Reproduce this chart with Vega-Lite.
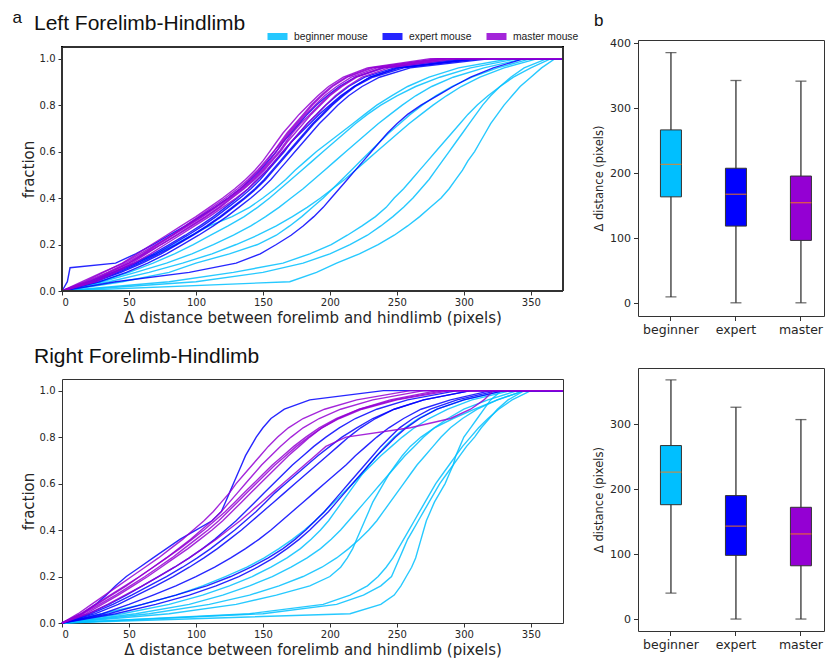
{
  "$schema": "https://vega.github.io/schema/vega-lite/v6.json",
  "background": "white",
  "padding": {"left": 12, "top": 9, "right": 0, "bottom": 0},
  "config": {
    "font": "DejaVu Sans",
    "view": {"stroke": "#333", "strokeWidth": 1},
    "axis": {"domain": false, "grid": false, "tickColor": "#333", "labelColor": "#262626", "titleColor": "#262626", "titleFontWeight": "normal", "labelFont": "DejaVu Sans", "titleFont": "DejaVu Sans"},
    "title": {"font": "Liberation Sans", "fontWeight": "normal", "color": "#111", "anchor": "start", "baseline": "alphabetic"}
  },
  "datasets": {
    "curves": [
      {"panel": "Left", "group": "beginner mouse", "id": "Lb1", "x": [0,20,38,55,70,84,97,110,127,140,150,159,167,174,182,190,199,208,217,226,235,246,258,274,296,335,374], "y": [0,0.04,0.08,0.12,0.16,0.2,0.24,0.28,0.32,0.36,0.4,0.44,0.48,0.52,0.56,0.6,0.64,0.68,0.72,0.76,0.8,0.84,0.88,0.92,0.96,1,1]},
      {"panel": "Left", "group": "beginner mouse", "id": "Lb2", "x": [0,28,50,68,84,98,111,124,136,146,155,163,171,179,187,195,203,211,219,228,238,250,264,282,305,340,374], "y": [0,0.04,0.08,0.12,0.16,0.2,0.24,0.28,0.32,0.36,0.4,0.44,0.48,0.52,0.56,0.6,0.64,0.68,0.72,0.76,0.8,0.84,0.88,0.92,0.96,1,1]},
      {"panel": "Left", "group": "beginner mouse", "id": "Lb3", "x": [0,45,80,100,125,146,160,170,179,187,195,202,209,216,223,230,237,244,252,260,269,279,291,306,325,350,374], "y": [0,0.04,0.08,0.12,0.16,0.2,0.24,0.28,0.32,0.36,0.4,0.44,0.48,0.52,0.56,0.6,0.64,0.68,0.72,0.76,0.8,0.84,0.88,0.92,0.96,1,1]},
      {"panel": "Left", "group": "beginner mouse", "id": "Lb4", "x": [0,80,128,165,185,201,213,224,234,242,248,255,261,267,273,279,285,291,297,303,310,318,327,337,350,365,374], "y": [0,0.04,0.08,0.12,0.16,0.2,0.24,0.28,0.32,0.36,0.4,0.44,0.48,0.52,0.56,0.6,0.64,0.68,0.72,0.76,0.8,0.84,0.88,0.92,0.96,1,1]},
      {"panel": "Left", "group": "beginner mouse", "id": "Lb5", "x": [0,100,150,180,200,215,228,238,247,255,262,268,274,279,284,289,294,299,304,309,314,320,327,335,345,362,374], "y": [0,0.04,0.08,0.12,0.16,0.2,0.24,0.28,0.32,0.36,0.4,0.44,0.48,0.52,0.56,0.6,0.64,0.68,0.72,0.76,0.8,0.84,0.88,0.92,0.96,1,1]},
      {"panel": "Left", "group": "beginner mouse", "id": "Lb6", "x": [0,170,190,205,222,236,248,258,267,275,283,289,294,299,303,308,312,316,320,325,330,336,342,350,358,368,374], "y": [0,0.04,0.08,0.12,0.16,0.2,0.24,0.28,0.32,0.36,0.4,0.44,0.48,0.52,0.56,0.6,0.64,0.68,0.72,0.76,0.8,0.84,0.88,0.92,0.96,1,1]},
      {"panel": "Left", "group": "beginner mouse", "id": "Lb7", "x": [0,35,65,90,112,130,146,160,172,183,193,202,211,219,227,235,243,251,259,268,277,287,298,312,330,355,374], "y": [0,0.04,0.08,0.12,0.16,0.2,0.24,0.28,0.32,0.36,0.4,0.44,0.48,0.52,0.56,0.6,0.64,0.68,0.72,0.76,0.8,0.84,0.88,0.92,0.96,1,1]},
      {"panel": "Left", "group": "beginner mouse", "id": "Lb8", "x": [0,30,55,78,97,113,128,141,152,162,171,180,188,196,204,212,220,228,236,245,254,264,276,292,315,345,374], "y": [0,0.04,0.08,0.12,0.16,0.2,0.24,0.28,0.32,0.36,0.4,0.44,0.48,0.52,0.56,0.6,0.64,0.68,0.72,0.76,0.8,0.84,0.88,0.92,0.96,1,1]},
      {"panel": "Left", "group": "expert mouse", "id": "Le1", "x": [0,4,6,40,55,68,80,92,103,114,124,133,141,148,154,160,165,171,177,183,190,198,207,219,240,300,374], "y": [0,0.04,0.1,0.12,0.16,0.2,0.24,0.28,0.32,0.36,0.4,0.44,0.48,0.52,0.56,0.6,0.64,0.68,0.72,0.76,0.8,0.84,0.88,0.92,0.96,1,1]},
      {"panel": "Left", "group": "expert mouse", "id": "Le2", "x": [0,22,40,56,70,82,94,105,115,124,133,141,148,154,160,166,171,177,183,190,197,205,214,226,248,305,374], "y": [0,0.04,0.08,0.12,0.16,0.2,0.24,0.28,0.32,0.36,0.4,0.44,0.48,0.52,0.56,0.6,0.64,0.68,0.72,0.76,0.8,0.84,0.88,0.92,0.96,1,1]},
      {"panel": "Left", "group": "expert mouse", "id": "Le3", "x": [0,25,44,60,74,86,98,109,119,128,137,145,152,158,164,170,176,182,188,195,202,210,219,232,255,310,374], "y": [0,0.04,0.08,0.12,0.16,0.2,0.24,0.28,0.32,0.36,0.4,0.44,0.48,0.52,0.56,0.6,0.64,0.68,0.72,0.76,0.8,0.84,0.88,0.92,0.96,1,1]},
      {"panel": "Left", "group": "expert mouse", "id": "Le4", "x": [0,20,38,54,68,80,92,103,113,122,131,139,146,153,159,165,171,178,185,192,200,208,218,230,252,315,374], "y": [0,0.04,0.08,0.12,0.16,0.2,0.24,0.28,0.32,0.36,0.4,0.44,0.48,0.52,0.56,0.6,0.64,0.68,0.72,0.76,0.8,0.84,0.88,0.92,0.96,1,1]},
      {"panel": "Left", "group": "expert mouse", "id": "Le5", "x": [0,28,48,64,78,90,102,113,123,132,141,149,156,162,168,174,180,186,192,199,206,214,224,237,260,320,374], "y": [0,0.04,0.08,0.12,0.16,0.2,0.24,0.28,0.32,0.36,0.4,0.44,0.48,0.52,0.56,0.6,0.64,0.68,0.72,0.76,0.8,0.84,0.88,0.92,0.96,1,1]},
      {"panel": "Left", "group": "expert mouse", "id": "Le6", "x": [0,24,42,58,72,85,97,108,118,127,136,144,151,157,163,169,175,181,187,194,201,209,218,230,250,308,374], "y": [0,0.04,0.08,0.12,0.16,0.2,0.24,0.28,0.32,0.36,0.4,0.44,0.48,0.52,0.56,0.6,0.64,0.68,0.72,0.76,0.8,0.84,0.88,0.92,0.96,1,1]},
      {"panel": "Left", "group": "expert mouse", "id": "Le7", "x": [0,40,95,130,148,160,171,180,188,195,201,207,213,219,225,231,237,243,250,258,268,280,292,305,322,345,374], "y": [0,0.04,0.08,0.12,0.16,0.2,0.24,0.28,0.32,0.36,0.4,0.44,0.48,0.52,0.56,0.6,0.64,0.68,0.72,0.76,0.8,0.84,0.88,0.92,0.96,1,1]},
      {"panel": "Left", "group": "master mouse", "id": "Lm1", "x": [0,17,31,45,56,67,78,89,100,110,120,129,137,144,150,155,160,165,171,177,184,191,199,210,228,275,374], "y": [0,0.04,0.08,0.12,0.16,0.2,0.24,0.28,0.32,0.36,0.4,0.44,0.48,0.52,0.56,0.6,0.64,0.68,0.72,0.76,0.8,0.84,0.88,0.92,0.96,1,1]},
      {"panel": "Left", "group": "master mouse", "id": "Lm2", "x": [0,20,35,50,61,72,83,94,105,115,125,134,142,149,155,160,165,170,176,182,189,196,205,216,235,285,374], "y": [0,0.04,0.08,0.12,0.16,0.2,0.24,0.28,0.32,0.36,0.4,0.44,0.48,0.52,0.56,0.6,0.64,0.68,0.72,0.76,0.8,0.84,0.88,0.92,0.96,1,1]},
      {"panel": "Left", "group": "master mouse", "id": "Lm3", "x": [0,24,38,52,63,74,86,97,108,118,127,136,144,151,157,163,168,174,180,186,193,200,209,220,240,290,374], "y": [0,0.04,0.08,0.12,0.16,0.2,0.24,0.28,0.32,0.36,0.4,0.44,0.48,0.52,0.56,0.6,0.64,0.68,0.72,0.76,0.8,0.84,0.88,0.92,0.96,1,1]},
      {"panel": "Left", "group": "master mouse", "id": "Lm4", "x": [0,15,30,46,58,70,82,93,104,114,124,133,140,147,153,158,164,169,175,181,187,194,202,213,232,280,374], "y": [0,0.04,0.08,0.12,0.16,0.2,0.24,0.28,0.32,0.36,0.4,0.44,0.48,0.52,0.56,0.6,0.64,0.68,0.72,0.76,0.8,0.84,0.88,0.92,0.96,1,1]},
      {"panel": "Left", "group": "master mouse", "id": "Lm5", "x": [0,26,40,54,66,77,88,99,110,120,130,139,146,153,159,165,171,177,183,190,197,204,213,224,244,295,374], "y": [0,0.04,0.08,0.12,0.16,0.2,0.24,0.28,0.32,0.36,0.4,0.44,0.48,0.52,0.56,0.6,0.64,0.68,0.72,0.76,0.8,0.84,0.88,0.92,0.96,1,1]},
      {"panel": "Left", "group": "master mouse", "id": "Lm6", "x": [0,22,36,50,62,74,85,96,107,117,126,135,143,150,156,162,167,172,178,185,192,199,208,219,238,288,374], "y": [0,0.04,0.08,0.12,0.16,0.2,0.24,0.28,0.32,0.36,0.4,0.44,0.48,0.52,0.56,0.6,0.64,0.68,0.72,0.76,0.8,0.84,0.88,0.92,0.96,1,1]},
      {"panel": "Left", "group": "master mouse", "id": "Lm7", "x": [0,18,34,48,60,71,82,92,102,112,122,131,139,146,152,158,163,168,174,180,186,193,201,212,230,282,374], "y": [0,0.04,0.08,0.12,0.16,0.2,0.24,0.28,0.32,0.36,0.4,0.44,0.48,0.52,0.56,0.6,0.64,0.68,0.72,0.76,0.8,0.84,0.88,0.92,0.96,1,1]},
      {"panel": "Right", "group": "beginner mouse", "id": "Rb1", "x": [0,215,238,248,253,257,261,264,266,268,270,272,275,278,282,286,289,292,294,297,300,305,310,315,320,328,374], "y": [0,0.04,0.08,0.12,0.16,0.2,0.24,0.28,0.32,0.36,0.4,0.44,0.48,0.52,0.56,0.6,0.64,0.68,0.72,0.76,0.8,0.84,0.88,0.92,0.96,1,1]},
      {"panel": "Right", "group": "beginner mouse", "id": "Rb2", "x": [0,150,205,225,238,246,249,252,255,258,262,266,270,274,278,282,287,292,297,302,308,313,319,325,333,345,374], "y": [0,0.04,0.08,0.12,0.16,0.2,0.24,0.28,0.32,0.36,0.4,0.44,0.48,0.52,0.56,0.6,0.64,0.68,0.72,0.76,0.8,0.84,0.88,0.92,0.96,1,1]},
      {"panel": "Right", "group": "beginner mouse", "id": "Rb3", "x": [0,140,195,215,228,236,242,247,251,255,259,263,267,271,275,279,284,289,294,299,305,311,318,326,336,350,374], "y": [0,0.04,0.08,0.12,0.16,0.2,0.24,0.28,0.32,0.36,0.4,0.44,0.48,0.52,0.56,0.6,0.64,0.68,0.72,0.76,0.8,0.84,0.88,0.92,0.96,1,1]},
      {"panel": "Right", "group": "beginner mouse", "id": "Rb4", "x": [0,80,130,160,185,200,208,213,217,220,223,226,229,232,236,240,244,249,254,260,268,278,292,308,325,345,374], "y": [0,0.04,0.08,0.12,0.16,0.2,0.24,0.28,0.32,0.36,0.4,0.44,0.48,0.52,0.56,0.6,0.64,0.68,0.72,0.76,0.8,0.84,0.88,0.92,0.96,1,1]},
      {"panel": "Right", "group": "beginner mouse", "id": "Rb5", "x": [0,45,80,105,125,142,156,168,178,186,193,199,204,209,214,219,224,229,235,241,248,256,266,280,300,330,374], "y": [0,0.04,0.08,0.12,0.16,0.2,0.24,0.28,0.32,0.36,0.4,0.44,0.48,0.52,0.56,0.6,0.64,0.68,0.72,0.76,0.8,0.84,0.88,0.92,0.96,1,1]},
      {"panel": "Right", "group": "beginner mouse", "id": "Rb6", "x": [0,55,95,120,140,157,171,183,193,201,208,214,220,226,232,238,244,250,256,263,270,278,288,300,318,340,374], "y": [0,0.04,0.08,0.12,0.16,0.2,0.24,0.28,0.32,0.36,0.4,0.44,0.48,0.52,0.56,0.6,0.64,0.68,0.72,0.76,0.8,0.84,0.88,0.92,0.96,1,1]},
      {"panel": "Right", "group": "beginner mouse", "id": "Rb7", "x": [0,65,110,140,162,180,194,205,214,222,229,235,240,245,250,255,260,265,271,277,283,290,299,310,325,345,374], "y": [0,0.04,0.08,0.12,0.16,0.2,0.24,0.28,0.32,0.36,0.4,0.44,0.48,0.52,0.56,0.6,0.64,0.68,0.72,0.76,0.8,0.84,0.88,0.92,0.96,1,1]},
      {"panel": "Right", "group": "beginner mouse", "id": "Rb8", "x": [0,30,60,85,105,122,138,151,162,172,181,189,196,203,210,217,224,231,238,246,254,263,274,288,306,335,374], "y": [0,0.04,0.08,0.12,0.16,0.2,0.24,0.28,0.32,0.36,0.4,0.44,0.48,0.52,0.56,0.6,0.64,0.68,0.72,0.76,0.8,0.84,0.88,0.92,0.96,1,1]},
      {"panel": "Right", "group": "expert mouse", "id": "Re1", "x": [0,15,25,33,40,48,58,68,78,88,100,112,119,122,125,128,131,134,137,141,145,150,156,166,185,240,374], "y": [0,0.04,0.08,0.12,0.16,0.2,0.24,0.28,0.32,0.36,0.4,0.44,0.48,0.52,0.56,0.6,0.64,0.68,0.72,0.76,0.8,0.84,0.88,0.92,0.96,1,1]},
      {"panel": "Right", "group": "expert mouse", "id": "Re2", "x": [0,20,35,48,60,72,84,95,105,114,122,130,137,144,151,158,165,172,180,188,197,207,219,235,258,295,374], "y": [0,0.04,0.08,0.12,0.16,0.2,0.24,0.28,0.32,0.36,0.4,0.44,0.48,0.52,0.56,0.6,0.64,0.68,0.72,0.76,0.8,0.84,0.88,0.92,0.96,1,1]},
      {"panel": "Right", "group": "expert mouse", "id": "Re3", "x": [0,25,42,56,70,83,95,106,116,125,134,142,150,158,166,174,182,190,198,206,214,223,234,248,270,305,374], "y": [0,0.04,0.08,0.12,0.16,0.2,0.24,0.28,0.32,0.36,0.4,0.44,0.48,0.52,0.56,0.6,0.64,0.68,0.72,0.76,0.8,0.84,0.88,0.92,0.96,1,1]},
      {"panel": "Right", "group": "expert mouse", "id": "Re4", "x": [0,30,50,68,85,100,114,126,137,147,156,164,172,180,188,196,204,212,219,227,235,244,255,268,290,320,374], "y": [0,0.04,0.08,0.12,0.16,0.2,0.24,0.28,0.32,0.36,0.4,0.44,0.48,0.52,0.56,0.6,0.64,0.68,0.72,0.76,0.8,0.84,0.88,0.92,0.96,1,1]},
      {"panel": "Right", "group": "expert mouse", "id": "Re5", "x": [0,35,60,85,108,126,141,154,165,174,182,189,196,202,208,214,220,226,232,238,245,252,262,275,295,325,374], "y": [0,0.04,0.08,0.12,0.16,0.2,0.24,0.28,0.32,0.36,0.4,0.44,0.48,0.52,0.56,0.6,0.64,0.68,0.72,0.76,0.8,0.84,0.88,0.92,0.96,1,1]},
      {"panel": "Right", "group": "expert mouse", "id": "Re6", "x": [0,22,38,52,65,78,90,101,111,120,129,137,145,152,159,167,175,183,191,200,209,220,232,248,270,305,374], "y": [0,0.04,0.08,0.12,0.16,0.2,0.24,0.28,0.32,0.36,0.4,0.44,0.48,0.52,0.56,0.6,0.64,0.68,0.72,0.76,0.8,0.84,0.88,0.92,0.96,1,1]},
      {"panel": "Right", "group": "expert mouse", "id": "Re7", "x": [0,40,70,95,115,132,146,158,168,177,185,192,199,205,211,217,223,229,235,242,249,257,267,280,300,330,374], "y": [0,0.04,0.08,0.12,0.16,0.2,0.24,0.28,0.32,0.36,0.4,0.44,0.48,0.52,0.56,0.6,0.64,0.68,0.72,0.76,0.8,0.84,0.88,0.92,0.96,1,1]},
      {"panel": "Right", "group": "master mouse", "id": "Rm1", "x": [0,12,22,32,42,52,62,72,81,90,98,106,113,119,125,130,136,142,148,154,161,169,180,196,220,260,374], "y": [0,0.04,0.08,0.12,0.16,0.2,0.24,0.28,0.32,0.36,0.4,0.44,0.48,0.52,0.56,0.6,0.64,0.68,0.72,0.76,0.8,0.84,0.88,0.92,0.96,1,1]},
      {"panel": "Right", "group": "master mouse", "id": "Rm2", "x": [0,15,26,37,48,58,68,78,87,96,104,112,119,125,131,137,143,149,156,163,171,180,192,208,232,270,374], "y": [0,0.04,0.08,0.12,0.16,0.2,0.24,0.28,0.32,0.36,0.4,0.44,0.48,0.52,0.56,0.6,0.64,0.68,0.72,0.76,0.8,0.84,0.88,0.92,0.96,1,1]},
      {"panel": "Right", "group": "master mouse", "id": "Rm3", "x": [0,18,30,42,53,64,74,84,94,103,112,120,127,134,141,148,155,162,169,177,185,194,206,222,245,280,374], "y": [0,0.04,0.08,0.12,0.16,0.2,0.24,0.28,0.32,0.36,0.4,0.44,0.48,0.52,0.56,0.6,0.64,0.68,0.72,0.76,0.8,0.84,0.88,0.92,0.96,1,1]},
      {"panel": "Right", "group": "master mouse", "id": "Rm4", "x": [0,14,25,36,47,58,68,78,88,97,106,114,122,129,136,143,150,157,165,173,182,192,205,222,248,285,374], "y": [0,0.04,0.08,0.12,0.16,0.2,0.24,0.28,0.32,0.36,0.4,0.44,0.48,0.52,0.56,0.6,0.64,0.68,0.72,0.76,0.8,0.84,0.88,0.92,0.96,1,1]},
      {"panel": "Right", "group": "master mouse", "id": "Rm5", "x": [0,20,34,47,60,72,84,95,105,115,124,133,141,149,157,165,173,181,189,197,212,260,290,305,315,322,374], "y": [0,0.04,0.08,0.12,0.16,0.2,0.24,0.28,0.32,0.36,0.4,0.44,0.48,0.52,0.56,0.6,0.64,0.68,0.72,0.76,0.8,0.84,0.88,0.92,0.96,1,1]},
      {"panel": "Right", "group": "master mouse", "id": "Rm6", "x": [0,16,28,40,51,62,72,82,91,100,109,117,124,131,138,145,152,159,167,175,184,194,207,224,250,290,374], "y": [0,0.04,0.08,0.12,0.16,0.2,0.24,0.28,0.32,0.36,0.4,0.44,0.48,0.52,0.56,0.6,0.64,0.68,0.72,0.76,0.8,0.84,0.88,0.92,0.96,1,1]}
    ],
    "boxes": [
      {"panel": "Left", "group": "beginner", "lo": 10, "q1": 164, "med": 214, "q3": 267, "hi": 386},
      {"panel": "Left", "group": "expert", "lo": 1, "q1": 119, "med": 168, "q3": 208, "hi": 343},
      {"panel": "Left", "group": "master", "lo": 1, "q1": 97, "med": 155, "q3": 196, "hi": 342},
      {"panel": "Right", "group": "beginner", "lo": 40, "q1": 176, "med": 226, "q3": 267, "hi": 368},
      {"panel": "Right", "group": "expert", "lo": 0, "q1": 98, "med": 143, "q3": 190, "hi": 326},
      {"panel": "Right", "group": "master", "lo": 0, "q1": 82, "med": 131, "q3": 172, "hi": 307}
    ]
  },
  "spacing": 14,
  "hconcat": [
    {
      "title": {"text": "a", "fontSize": 17, "frame": "bounds", "offset": -14, "dx": -8},
      "spacing": 20,
      "resolve": {"scale": {"color": "independent"}},
      "vconcat": [
        {
          "width": 501, "height": 251,
          "view": {"stroke": null},
          "title": {"text": "Left Forelimb-Hindlimb", "fontSize": 21, "frame": "group", "dx": -28, "offset": -11},
          "data": {"name": "curves"},
          "transform": [{"filter": "datum.panel === 'Left'"}, {"flatten": ["x", "y"]}],
          "layer": [
            {
              "mark": {"type": "line", "interpolate": "linear", "strokeWidth": 1.4, "opacity": 0.85},
              "encoding": {
                "x": {"field": "x", "type": "quantitative", "scale": {"domain": [0, 374], "nice": false, "zero": false},
                      "axis": {"title": "Δ distance between forelimb and hindlimb (pixels)", "values": [0,50,100,150,200,250,300,350], "labelFontSize": 10, "titleFontSize": 15, "titlePadding": 3, "tickSize": 4, "labelPadding": 2}},
                "y": {"field": "y", "type": "quantitative", "scale": {"domain": [0, 1.0801], "nice": false},
                      "axis": {"title": "fraction", "values": [0,0.2,0.4,0.6,0.8,1], "format": ".1f", "labelFontSize": 10, "titleFontSize": 15, "titlePadding": 3, "tickSize": 4, "labelPadding": 3, "titleY": 129}},
                "color": {"field": "group", "type": "nominal", "scale": {"domain": ["beginner mouse", "expert mouse", "master mouse"], "range": ["#00BFFF", "#0000FF", "#9400D3"]},
                          "legend": {"orient": "none", "legendX": 202, "legendY": -17, "direction": "horizontal", "title": null, "symbolType": "stroke", "symbolSize": 400, "symbolStrokeWidth": 7, "labelFont": "Liberation Sans", "labelFontSize": 10.3, "labelColor": "#222", "columnPadding": 0, "gridAlign": "none", "labelOffset": 3,
                                     "encode": {"symbols": {"update": {"strokeOpacity": {"signal": "datum.value === 'expert mouse' ? 1 : datum.value === 'master mouse' ? 0.7 : 0.5"}}}}}},
                "detail": {"field": "id"}
              }
            },
            {"mark": {"type": "rule", "color": "#333", "strokeWidth": 1}, "encoding": {"y": {"datum": 1.05}}},
            {"mark": {"type": "rule", "color": "#333", "strokeWidth": 1}, "encoding": {"y": {"datum": 0}}},
            {"mark": {"type": "rule", "color": "#333", "strokeWidth": 1}, "encoding": {"x": {"datum": 0}, "y": {"datum": 0}, "y2": {"datum": 1.05}}},
            {"mark": {"type": "rule", "color": "#333", "strokeWidth": 1}, "encoding": {"x": {"datum": 374}, "y": {"datum": 0}, "y2": {"datum": 1.05}}}
          ]
        },
        {
          "width": 501, "height": 244,
          "title": {"text": "Right Forelimb-Hindlimb", "fontSize": 21, "frame": "group", "dx": -28, "offset": 12},
          "data": {"name": "curves"},
          "transform": [{"filter": "datum.panel === 'Right'"}, {"flatten": ["x", "y"]}],
          "mark": {"type": "line", "interpolate": "linear", "strokeWidth": 1.4, "opacity": 0.85},
          "encoding": {
            "x": {"field": "x", "type": "quantitative", "scale": {"domain": [0, 374], "nice": false, "zero": false},
                  "axis": {"title": "Δ distance between forelimb and hindlimb (pixels)", "values": [0,50,100,150,200,250,300,350], "labelFontSize": 10, "titleFontSize": 15, "titlePadding": 3, "tickSize": 4, "labelPadding": 2}},
            "y": {"field": "y", "type": "quantitative", "scale": {"domain": [0, 1.05], "nice": false},
                  "axis": {"title": "fraction", "values": [0,0.2,0.4,0.6,0.8,1], "format": ".1f", "labelFontSize": 10, "titleFontSize": 15, "titlePadding": 3, "tickSize": 4, "labelPadding": 3}},
            "color": {"field": "group", "type": "nominal", "scale": {"domain": ["beginner mouse", "expert mouse", "master mouse"], "range": ["#00BFFF", "#0000FF", "#9400D3"]}, "legend": null},
            "detail": {"field": "id"}
          }
        }
      ]
    },
    {
      "title": {"text": "b", "fontSize": 17, "frame": "bounds", "offset": 7, "dx": 1},
      "spacing": 30,
      "vconcat": [
        {
          "width": 186, "height": 276,
          "data": {"name": "boxes"},
          "transform": [{"filter": "datum.panel === 'Left'"}],
          "encoding": {"x": {"field": "group", "type": "nominal", "scale": {"domain": ["beginner", "expert", "master"], "paddingInner": 0.4, "paddingOuter": 0.131, "align": 0.79}, "axis": {"title": null, "labelAngle": 0, "labelFontSize": 12.5, "tickSize": 4.5, "labelPadding": 3}}},
          "layer": [
            {"mark": {"type": "rule", "color": "#333", "strokeWidth": 1.3}, "encoding": {"y": {"field": "lo", "type": "quantitative", "scale": {"domain": [-19.3, 405.3], "nice": false, "zero": false}, "axis": {"title": "Δ distance (pixels)", "values": [0,50,100,150,200,250,300,350,400], "labelFontSize": 11, "titleFontSize": 11.5, "titlePadding": 5, "tickSize": 4.5, "labelPadding": 3}}, "y2": {"field": "hi"}}},
            {"mark": {"type": "tick", "color": "#333", "size": 11, "thickness": 1.3}, "encoding": {"y": {"field": "lo", "type": "quantitative"}}},
            {"mark": {"type": "tick", "color": "#333", "size": 11, "thickness": 1.3}, "encoding": {"y": {"field": "hi", "type": "quantitative"}}},
            {"mark": {"type": "bar", "size": 21, "stroke": "#333", "strokeWidth": 1}, "encoding": {"y": {"field": "q1", "type": "quantitative"}, "y2": {"field": "q3"}, "fill": {"field": "group", "type": "nominal", "scale": {"domain": ["beginner", "expert", "master"], "range": ["#00BFFF", "#0000FF", "#9400D3"]}, "legend": null}}},
            {"mark": {"type": "tick", "color": "#FF7F0E", "size": 21, "thickness": 1.3}, "encoding": {"y": {"field": "med", "type": "quantitative"}}}
          ]
        },
        {
          "width": 186, "height": 263,
          "data": {"name": "boxes"},
          "transform": [{"filter": "datum.panel === 'Right'"}],
          "encoding": {"x": {"field": "group", "type": "nominal", "scale": {"domain": ["beginner", "expert", "master"], "paddingInner": 0.4, "paddingOuter": 0.131, "align": 0.79}, "axis": {"title": null, "labelAngle": 0, "labelFontSize": 12.5, "tickSize": 4.5, "labelPadding": 3}}},
          "layer": [
            {"mark": {"type": "rule", "color": "#333", "strokeWidth": 1.3}, "encoding": {"y": {"field": "lo", "type": "quantitative", "scale": {"domain": [-18.4, 386.4], "nice": false, "zero": false}, "axis": {"title": "Δ distance (pixels)", "values": [0,50,100,150,200,250,300,350], "labelFontSize": 11, "titleFontSize": 11.5, "titlePadding": 5, "tickSize": 4.5, "labelPadding": 3}}, "y2": {"field": "hi"}}},
            {"mark": {"type": "tick", "color": "#333", "size": 11, "thickness": 1.3}, "encoding": {"y": {"field": "lo", "type": "quantitative"}}},
            {"mark": {"type": "tick", "color": "#333", "size": 11, "thickness": 1.3}, "encoding": {"y": {"field": "hi", "type": "quantitative"}}},
            {"mark": {"type": "bar", "size": 21, "stroke": "#333", "strokeWidth": 1}, "encoding": {"y": {"field": "q1", "type": "quantitative"}, "y2": {"field": "q3"}, "fill": {"field": "group", "type": "nominal", "scale": {"domain": ["beginner", "expert", "master"], "range": ["#00BFFF", "#0000FF", "#9400D3"]}, "legend": null}}},
            {"mark": {"type": "tick", "color": "#FF7F0E", "size": 21, "thickness": 1.3}, "encoding": {"y": {"field": "med", "type": "quantitative"}}}
          ]
        }
      ]
    }
  ]
}
